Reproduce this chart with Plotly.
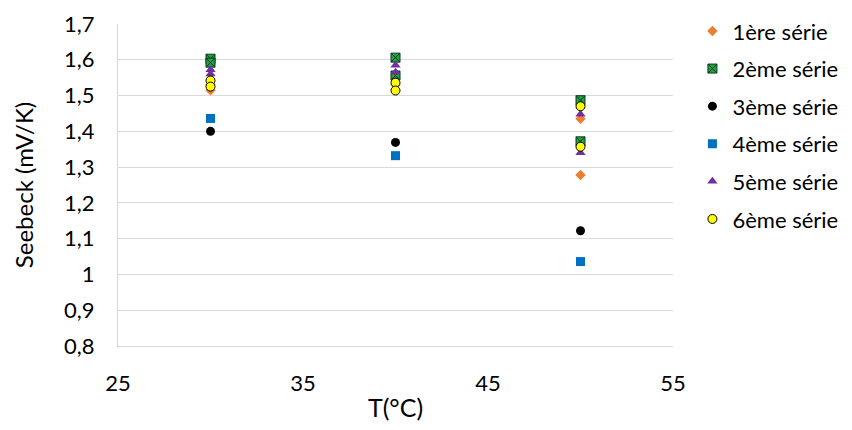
import plotly.graph_objects as go

# Data
x_s1 = [30, 30, 40, 40, 50, 50]
y_s1 = [1.515, 1.53, 1.53, 1.55, 1.435, 1.278]
x_s2 = [30, 30, 40, 40, 50, 50]
y_s2 = [1.603, 1.592, 1.606, 1.556, 1.487, 1.372]
x_s3 = [30, 40, 50]
y_s3 = [1.400, 1.369, 1.122]
x_s4 = [30, 40, 50]
y_s4 = [1.436, 1.332, 1.036]
x_s5 = [30, 30, 40, 40, 50, 50]
y_s5 = [1.572, 1.56, 1.585, 1.565, 1.448, 1.340]
x_s6 = [30, 30, 40, 40, 50, 50]
y_s6 = [1.542, 1.525, 1.536, 1.514, 1.470, 1.357]

names = ["1ère série", "2ème série", "3ème série", "4ème série", "5ème série", "6ème série"]
y_ticks = [0.8, 0.9, 1.0, 1.1, 1.2, 1.3, 1.4, 1.5, 1.6, 1.7]
y_ticktext = ["0,8", "0,9", "1", "1,1", "1,2", "1,3", "1,4", "1,5", "1,6", "1,7"]
x_ticks = [25, 35, 45, 55]

FONT = "Lato"

styles = [
    dict(symbol="diamond", size=8, color="#ED7D31", line=dict(width=0)),
    dict(symbol="square-x", size=9, color="#1FA04A", line=dict(width=1, color="#0B3A18")),
    dict(symbol="circle", size=9, color="#000000", line=dict(width=0)),
    dict(symbol="square", size=9, color="#0070C0", line=dict(width=0)),
    dict(symbol="triangle-up", size=9, color="#7030A0", line=dict(width=0)),
    dict(symbol="circle", size=9, color="#FFFF00", line=dict(width=1, color="#000000")),
]

series = [(x_s1, y_s1), (x_s2, y_s2), (x_s3, y_s3), (x_s4, y_s4), (x_s5, y_s5), (x_s6, y_s6)]

fig = go.Figure()
for i, ((xs, ys), nm, st) in enumerate(zip(series, names, styles)):
    fig.add_trace(go.Scatter(x=xs, y=ys, mode="markers", name=nm, marker=st,
                             legendgroup=f"g{i}"))

fig.update_layout(
    width=844, height=414,
    margin=dict(l=110, r=179, t=16, b=76, autoexpand=False),
    paper_bgcolor="white", plot_bgcolor="white",
    font=dict(family=FONT, size=22, color="#000000"),
    showlegend=True,
    legend=dict(x=1.035, y=1.043, xanchor="left", yanchor="top",
                font=dict(family=FONT, size=22, color="#000000"),
                tracegroupgap=6, itemwidth=30, maxheight=400),
    xaxis=dict(range=[25, 55], tickvals=x_ticks, showgrid=False, zeroline=False,
               showline=True, linecolor="#D9D9D9", linewidth=1, ticks="",
               ticklabelstandoff=18,
               title=dict(text="T(°C)", font=dict(family=FONT, size=25), standoff=7),
               tickfont=dict(family=FONT, size=22)),
    yaxis=dict(range=[0.8, 1.7], tickvals=y_ticks, ticktext=y_ticktext,
               showgrid=True, gridcolor="#D9D9D9", gridwidth=1, zeroline=False,
               showline=True, linecolor="#D9D9D9", linewidth=1, ticks="",
               ticklabelstandoff=18,
               title=dict(text="Seebeck (mV/K)", font=dict(family=FONT, size=24), standoff=23),
               tickfont=dict(family=FONT, size=22)),
)

fig.write_html("out.html")
